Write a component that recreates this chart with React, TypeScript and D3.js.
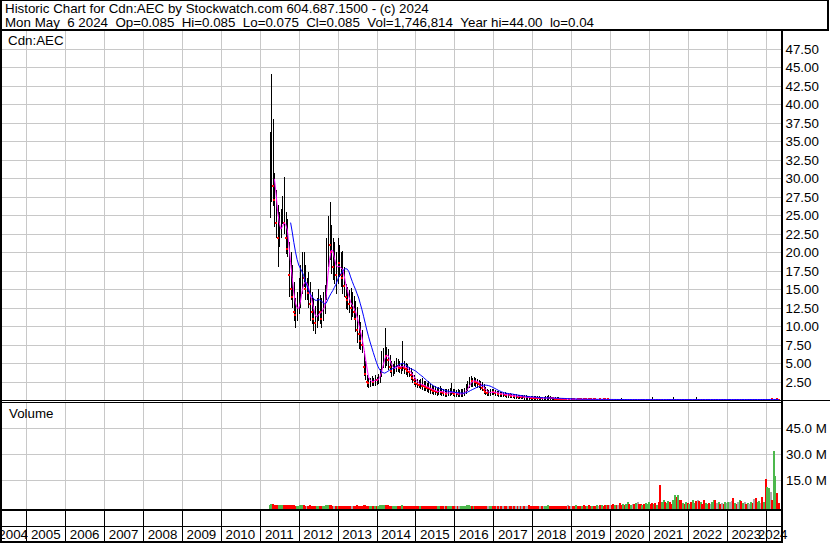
import React, { useEffect, useRef } from 'react';
import * as d3 from 'd3';

// half-monthly bars, first one at 2011.25 (early April 2011)
const startYear = 2011.25;
const stepYears = 1 / 24;

const highs = [
  // 2011
  36.2, 44.0, 38.0, 30.7, 28.3, 26.3, 25.4, 25.8, 27.6, 30.1, 25.4, 24.5, 21.3, 20.0, 18.2, 15.9, 13.7, 14.6,
  // 2012
  16.4, 18.2, 20.0, 20.0, 18.2, 16.4, 17.3, 15.9, 14.6, 13.7, 12.7, 13.7, 15.0, 14.1, 13.7, 14.6, 15.5, 21.8, 24.9, 26.7, 23.6, 21.8, 21.3, 20.0,
  // 2013
  21.8, 20.9, 20.0, 20.1, 18.0, 15.6, 15.2, 14.8, 15.1, 14.5, 14.0, 13.3, 12.5, 11.5, 10.5, 9.5, 6.6, 5.2, 3.4, 3.0, 3.0, 3.2, 3.0, 3.3,
  // 2014
  3.1, 3.5, 4.2, 6.6, 7.0, 9.7, 7.2, 6.8, 6.0, 5.2, 4.8, 5.2, 5.7, 5.5, 5.3, 5.0, 7.9, 5.2, 5.0, 4.8, 4.5, 4.3, 3.8, 3.4,
  // 2015
  3.0, 2.8, 2.7, 2.8, 2.9, 2.6, 2.5, 2.3, 2.5, 2.2, 2.0, 1.9, 1.8, 1.6, 1.7, 1.8, 1.6, 1.5, 1.5, 1.4, 1.5, 1.6, 2.3, 1.5,
  // 2016
  1.4, 1.3, 1.4, 1.3, 1.4, 1.5, 1.6, 2.1, 2.6, 3.1, 3.2, 3.0, 3.1, 2.9, 2.8, 2.7, 2.6, 2.4, 2.1, 1.7, 1.4, 1.3, 1.4, 1.5,
  // 2017
  1.4, 1.3, 1.2, 1.2, 1.1, 1.1, 1.0, 1.0, 0.95, 0.9, 0.9, 0.85, 0.8, 0.8, 0.75, 0.7, 0.7, 0.65, 0.65, 0.6, 0.6, 0.55, 0.55, 0.5,
  // 2018
  0.5, 0.48, 0.5, 0.45, 0.45, 0.42, 0.42, 0.4, 0.45, 0.55, 0.7, 0.5, 0.4, 0.38, 0.36, 0.34, 0.32, 0.3, 0.3, 0.28, 0.26, 0.25, 0.24, 0.22,
  // 2019
  0.18, 0.17, 0.17, 0.17, 0.16, 0.16, 0.15, 0.16, 0.15, 0.15, 0.15, 0.15, 0.14, 0.15, 0.14, 0.14, 0.14, 0.14, 0.14, 0.14, 0.14, 0.13, 0.14, 0.13,
  // 2020
  0.13, 0.13, 0.12, 0.13, 0.12, 0.12, 0.12, 0.3, 0.12, 0.11, 0.12, 0.12, 0.12, 0.12, 0.12, 0.12, 0.12, 0.12, 0.12, 0.11, 0.12, 0.11, 0.12, 0.12,
  // 2021
  0.13, 0.12, 0.35, 0.12, 0.12, 0.12, 0.12, 0.12, 0.12, 0.12, 0.12, 0.12, 0.13, 0.12, 0.12, 0.4, 0.13, 0.12, 0.13, 0.12, 0.12, 0.12, 0.12, 0.12,
  // 2022
  0.12, 0.12, 0.12, 0.12, 0.13, 0.35, 0.12, 0.12, 0.12, 0.12, 0.11, 0.12, 0.12, 0.12, 0.12, 0.12, 0.13, 0.12, 0.12, 0.13, 0.12, 0.12, 0.12, 0.12,
  // 2023
  0.12, 0.13, 0.13, 0.13, 0.12, 0.13, 0.12, 0.12, 0.13, 0.12, 0.13, 0.13, 0.12, 0.13, 0.13, 0.13, 0.13, 0.13, 0.13, 0.12, 0.13, 0.13, 0.13, 0.13,
  // 2024
  0.13, 0.13, 0.14, 0.14, 0.13, 0.14, 0.14, 0.14, 0.12,
];

const lows = [
  // 2011
  24.9, 27.0, 26.5, 23.6, 22.2, 18.2, 20.9, 22.2, 24.0, 22.7, 20.0, 19.5, 14.1, 13.7, 12.7, 10.9, 10.0, 10.9,
  // 2012
  11.8, 12.7, 14.6, 15.5, 13.7, 13.7, 12.7, 10.9, 10.5, 9.6, 9.1, 10.0, 10.9, 10.5, 10.0, 10.9, 11.8, 13.7, 18.2, 19.1, 17.3, 16.4, 15.9, 14.6,
  // 2013
  15.9, 16.8, 15.5, 14.5, 14.2, 12.5, 12.4, 12.0, 11.1, 11.5, 11.2, 9.5, 8.0, 7.2, 7.0, 6.6, 3.5, 2.9, 2.0, 1.8, 2.0, 2.2, 2.1, 2.2,
  // 2014
  2.3, 2.4, 2.6, 3.4, 4.5, 4.5, 4.8, 4.3, 3.9, 3.4, 3.5, 3.7, 4.0, 4.0, 3.9, 3.8, 4.2, 3.8, 3.6, 3.4, 3.4, 3.0, 2.6, 2.3,
  // 2015
  2.0, 1.9, 1.8, 1.7, 1.6, 1.5, 1.4, 1.3, 1.2, 1.1, 1.0, 0.9, 0.9, 0.8, 0.9, 0.9, 0.8, 0.8, 0.7, 0.7, 0.8, 0.8, 0.9, 0.8,
  // 2016
  0.7, 0.7, 0.6, 0.6, 0.7, 0.7, 0.8, 1.0, 1.4, 1.8, 2.0, 2.0, 2.1, 2.0, 1.9, 1.8, 1.6, 1.4, 1.1, 0.9, 0.8, 0.8, 0.8, 0.9,
  // 2017
  0.9, 0.8, 0.8, 0.7, 0.7, 0.7, 0.6, 0.6, 0.55, 0.5, 0.5, 0.45, 0.45, 0.4, 0.4, 0.4, 0.35, 0.35, 0.35, 0.3, 0.3, 0.3, 0.3, 0.28,
  // 2018
  0.28, 0.26, 0.25, 0.25, 0.24, 0.22, 0.22, 0.2, 0.2, 0.25, 0.26, 0.24, 0.2, 0.18, 0.18, 0.16, 0.15, 0.14, 0.14, 0.13, 0.12, 0.12, 0.11, 0.1,
  // 2019
  0.13, 0.12, 0.12, 0.12, 0.12, 0.11, 0.11, 0.11, 0.11, 0.1, 0.11, 0.1, 0.1, 0.1, 0.1, 0.1, 0.1, 0.1, 0.1, 0.1, 0.09, 0.09, 0.1, 0.09,
  // 2020
  0.09, 0.09, 0.08, 0.09, 0.08, 0.08, 0.08, 0.07, 0.08, 0.07, 0.08, 0.08, 0.08, 0.08, 0.08, 0.08, 0.08, 0.08, 0.08, 0.07, 0.08, 0.07, 0.08, 0.08,
  // 2021
  0.09, 0.08, 0.08, 0.08, 0.08, 0.08, 0.08, 0.07, 0.08, 0.08, 0.08, 0.08, 0.09, 0.08, 0.08, 0.08, 0.09, 0.08, 0.09, 0.08, 0.08, 0.08, 0.08, 0.08,
  // 2022
  0.08, 0.08, 0.08, 0.08, 0.09, 0.08, 0.08, 0.08, 0.08, 0.08, 0.07, 0.08, 0.08, 0.08, 0.08, 0.08, 0.09, 0.08, 0.08, 0.09, 0.08, 0.08, 0.08, 0.08,
  // 2023
  0.08, 0.09, 0.09, 0.09, 0.08, 0.09, 0.08, 0.08, 0.09, 0.08, 0.09, 0.09, 0.08, 0.09, 0.09, 0.09, 0.09, 0.09, 0.09, 0.08, 0.09, 0.09, 0.09, 0.09,
  // 2024
  0.09, 0.09, 0.1, 0.1, 0.09, 0.1, 0.1, 0.1, 0.075,
];

const closes = [
  // 2011
  31.7, 32.0, 29.0, 27.0, 24.0, 22.0, 23.0, 23.5, 25.5, 24.0, 22.0, 20.5, 17.0, 15.0, 14.0, 12.0, 11.5, 12.5,
  // 2012
  13.5, 15.5, 17.0, 16.5, 15.0, 15.0, 14.5, 13.0, 12.0, 11.0, 10.5, 11.5, 13.0, 12.0, 11.0, 13.0, 14.5, 18.0, 22.0, 21.0, 20.0, 18.0, 18.0, 17.0,
  // 2013
  19.0, 18.5, 17.0, 16.5, 15.5, 14.0, 13.5, 13.0, 12.5, 12.5, 12.0, 11.0, 9.5, 9.0, 8.0, 7.5, 4.5, 3.5, 2.5, 2.3, 2.6, 2.8, 2.5, 2.9,
  // 2014
  2.7, 3.0, 3.8, 5.5, 6.3, 6.5, 6.0, 5.5, 4.5, 4.0, 4.2, 4.5, 4.8, 4.6, 4.4, 4.3, 5.0, 4.4, 4.2, 4.0, 3.8, 3.4, 3.0, 2.7,
  // 2015
  2.4, 2.2, 2.1, 2.2, 2.0, 1.9, 1.8, 1.7, 1.6, 1.5, 1.4, 1.3, 1.2, 1.1, 1.2, 1.3, 1.1, 1.0, 1.0, 0.9, 1.0, 1.1, 1.2, 1.0,
  // 2016
  0.9, 0.9, 0.8, 0.8, 0.9, 1.0, 1.1, 1.6, 2.1, 2.5, 2.7, 2.6, 2.7, 2.5, 2.4, 2.2, 2.0, 1.7, 1.4, 1.1, 1.0, 1.0, 1.1, 1.2,
  // 2017
  1.1, 1.0, 1.0, 0.9, 0.9, 0.8, 0.8, 0.75, 0.7, 0.7, 0.65, 0.6, 0.6, 0.55, 0.55, 0.5, 0.5, 0.45, 0.45, 0.4, 0.4, 0.4, 0.38, 0.36,
  // 2018
  0.35, 0.34, 0.33, 0.32, 0.3, 0.3, 0.28, 0.28, 0.3, 0.32, 0.34, 0.3, 0.27, 0.25, 0.24, 0.22, 0.21, 0.2, 0.19, 0.18, 0.17, 0.16, 0.16, 0.15,
  // 2019
  0.15, 0.145, 0.14, 0.145, 0.14, 0.135, 0.13, 0.135, 0.13, 0.125, 0.13, 0.125, 0.12, 0.125, 0.12, 0.115, 0.12, 0.12, 0.115, 0.12, 0.115, 0.11, 0.115, 0.11,
  // 2020
  0.11, 0.105, 0.1, 0.105, 0.1, 0.1, 0.095, 0.09, 0.095, 0.09, 0.095, 0.1, 0.095, 0.1, 0.1, 0.095, 0.1, 0.1, 0.095, 0.09, 0.095, 0.09, 0.095, 0.1,
  // 2021
  0.105, 0.1, 0.095, 0.1, 0.095, 0.1, 0.095, 0.09, 0.095, 0.1, 0.095, 0.1, 0.105, 0.1, 0.095, 0.1, 0.105, 0.1, 0.105, 0.1, 0.095, 0.1, 0.095, 0.1,
  // 2022
  0.095, 0.1, 0.095, 0.1, 0.105, 0.1, 0.1, 0.095, 0.1, 0.095, 0.09, 0.095, 0.1, 0.095, 0.095, 0.1, 0.105, 0.1, 0.1, 0.105, 0.1, 0.1, 0.095, 0.1,
  // 2023
  0.1, 0.105, 0.105, 0.105, 0.1, 0.105, 0.1, 0.1, 0.105, 0.1, 0.105, 0.105, 0.1, 0.105, 0.105, 0.11, 0.105, 0.105, 0.1, 0.105, 0.11, 0.11, 0.105, 0.11,
  // 2024
  0.105, 0.11, 0.115, 0.115, 0.11, 0.115, 0.12, 0.115, 0.085,
];

// volume in millions of shares
const volumes = [
  // 2011
  0.9, 1.4, 1.1, 0.8, 0.7, 0.6, 0.6, 0.5, 0.7, 0.8, 0.6, 0.5, 0.6, 0.5, 0.5, 0.5, 0.4, 0.4,
  // 2012
  0.4, 0.5, 0.6, 0.5, 0.4, 0.4, 0.4, 0.5, 0.4, 0.4, 0.3, 0.4, 0.4, 0.3, 0.3, 0.4, 0.4, 0.6, 0.7, 0.6, 0.5, 0.4, 0.4, 0.4,
  // 2013
  0.4, 0.4, 0.3, 0.4, 0.3, 0.3, 0.3, 0.3, 0.4, 0.3, 0.3, 0.4, 0.5, 0.4, 0.4, 0.4, 0.6, 0.5, 0.4, 0.4, 0.3, 0.3, 0.3, 0.3,
  // 2014
  0.3, 0.4, 0.5, 0.8, 0.7, 0.9, 0.6, 0.5, 0.4, 0.3, 0.3, 0.4, 0.3, 0.3, 0.3, 0.3, 0.5, 0.3, 0.3, 0.3, 0.3, 0.3, 0.3, 0.3,
  // 2015
  0.3, 0.3, 0.2, 0.3, 0.3, 0.2, 0.3, 0.3, 0.2, 0.3, 0.2, 0.3, 0.3, 0.2, 0.3, 0.4, 0.2, 0.3, 0.2, 0.3, 0.3, 0.2, 0.4, 0.3,
  // 2016
  0.2, 0.3, 0.2, 0.3, 0.2, 0.3, 0.3, 0.4, 0.5, 0.5, 0.4, 0.3, 0.3, 0.3, 0.3, 0.2, 0.3, 0.3, 0.3, 0.2, 0.3, 0.2, 0.3, 0.3,
  // 2017
  0.2, 0.3, 0.2, 0.3, 0.3, 0.2, 0.3, 0.2, 0.3, 0.3, 0.2, 0.3, 0.2, 0.3, 0.3, 0.2, 0.3, 0.3, 0.2, 0.3, 0.3, 0.4, 1.0, 0.4,
  // 2018
  0.3, 0.2, 0.3, 0.3, 0.2, 0.3, 0.3, 0.2, 0.3, 0.4, 0.5, 0.3, 0.3, 0.2, 0.3, 0.3, 0.2, 0.3, 0.3, 0.3, 0.2, 0.3, 0.7, 0.3,
  // 2019
  0.3, 0.4, 0.3, 0.5, 0.3, 0.4, 0.3, 0.3, 0.6, 0.4, 0.3, 0.5, 0.4, 0.3, 0.4, 0.3, 0.5, 0.4, 0.6, 0.5, 0.4, 0.7, 0.5, 0.6,
  // 2020
  1.0, 0.8, 1.2, 0.6, 0.9, 0.7, 1.8, 0.8, 1.2, 1.0, 1.6, 2.2, 1.5, 1.0, 1.3, 1.4, 1.8, 2.2, 1.2, 1.6, 1.0, 1.4, 2.0, 1.2,
  // 2021
  2.6, 1.6, 2.0, 1.2, 1.8, 1.0, 2.2, 12.3, 2.5, 3.4, 2.6, 1.8, 3.0, 2.4, 1.6, 3.8, 6.8, 5.6, 6.5, 3.8, 3.6, 2.0, 1.4, 2.6,
  // 2022
  1.8, 1.4, 2.4, 3.6, 2.0, 2.8, 3.9, 3.2, 2.2, 1.6, 3.8, 2.0, 1.4, 1.8, 1.2, 2.4, 3.6, 3.8, 2.0, 2.6, 1.4, 2.0, 1.6, 2.2,
  // 2023
  1.8, 2.6, 2.7, 3.3, 4.6, 2.0, 1.6, 2.4, 3.6, 3.2, 2.0, 2.6, 1.6, 2.0, 1.4, 2.6, 2.0, 4.4, 4.6, 2.2, 3.0, 2.0, 5.4, 2.6,
  // 2024
  15.7, 11.3, 10.7, 8.5, 3.6, 31.9, 17.3, 7.5, 2.0,
];

const yearLabels = ['2004', '2005', '2006', '2007', '2008', '2009', '2010', '2011', '2012', '2013', '2014',
  '2015', '2016', '2017', '2018', '2019', '2020', '2021', '2022', '2023', '2024'];
const priceTicks = [2.5, 5, 7.5, 10, 12.5, 15, 17.5, 20, 22.5, 25, 27.5, 30, 32.5, 35, 37.5, 40, 42.5, 45, 47.5];
const volumeTicks = [15, 30, 45];

const titleLine = 'Historic Chart for Cdn:AEC by Stockwatch.com 604.687.1500 - (c) 2024';
const quoteLine = 'Mon May  6 2024  Op=0.085  Hi=0.085  Lo=0.075  Cl=0.085  Vol=1,746,814  Year hi=44.00  lo=0.04';
const symbol = 'Cdn:AEC';

const sma = (vals: number[], n: number) => {
  const out: { i: number; v: number }[] = [];
  for (let i = n - 1; i < vals.length; i++) {
    out.push({ i, v: d3.mean(vals.slice(i - n + 1, i + 1)) as number });
  }
  return out;
};

// keep runs of spaces visible in svg text
const keepSpaces = (s: string) => s.replace(/ /g, '\u00a0');

const App: React.FC = () => {
  const svgRef = useRef<SVGSVGElement>(null);
  const width = 830;
  const height = 543;

  useEffect(() => {
    if (!svgRef.current) return;
    const svg = d3.select(svgRef.current);
    svg.selectAll('*').remove();

    const font = 'Liberation Sans, Arial, sans-serif';
    const fs = 13.33;
    const plotL = 1;
    const plotR = 781;
    const priceTop = 31;
    const priceBottom = 400;
    const volTop = 402;
    const volBottom = 509;
    const rowMid = 526;
    const rowBottom = 542;

    const x = d3.scaleLinear().domain([2005, 2024]).range([26.3, 765.7]);
    const y = d3.scaleLinear().domain([0, 50]).range([400.3, 30.3]);
    const yv = d3.scaleLinear().domain([0, 60]).range([506.3, 402.3]);

    const t = (i: number) => startYear + i * stepYears;
    const px = (i: number) => Math.round(x(t(i)));
    const xEnd = x(t(closes.length - 1)) + 1;

    svg.append('rect').attr('width', width).attr('height', height).attr('fill', '#fff');

    const defs = svg.append('defs');
    defs.append('clipPath').attr('id', 'price-clip').append('rect')
      .attr('x', plotL).attr('y', priceTop).attr('width', plotR - plotL).attr('height', priceBottom - priceTop);

    // grid
    const grid = svg.append('g').attr('stroke', '#c8c8c8').attr('stroke-width', 1).attr('shape-rendering', 'crispEdges');
    const yearBounds = d3.range(2005, 2025);
    [[priceTop, priceBottom], [volTop, volBottom]].forEach(([a, b]) => {
      grid.selectAll(null).data(yearBounds).join('line')
        .attr('x1', d => Math.round(x(d)) + 0.5).attr('x2', d => Math.round(x(d)) + 0.5)
        .attr('y1', a).attr('y2', b);
    });
    grid.selectAll(null).data(priceTicks).join('line')
      .attr('x1', plotL).attr('x2', plotR)
      .attr('y1', d => Math.round(y(d)) + 0.5).attr('y2', d => Math.round(y(d)) + 0.5);
    grid.selectAll(null).data(volumeTicks).join('line')
      .attr('x1', plotL).attr('x2', plotR)
      .attr('y1', d => Math.round(yv(d)) + 0.5).attr('y2', d => Math.round(yv(d)) + 0.5);

    // price bars (high-low), red tick on down closes
    const price = svg.append('g').attr('clip-path', 'url(#price-clip)');
    const idx = d3.range(closes.length);
    price.append('g').attr('fill', '#000').attr('shape-rendering', 'crispEdges')
      .selectAll('rect').data(idx).join('rect')
      .attr('x', px).attr('width', 1)
      .attr('y', i => Math.floor(y(highs[i])))
      .attr('height', i => Math.ceil(y(lows[i])) + 1 - Math.floor(y(highs[i])));

    const downs = idx.filter(i => i > 0 && closes[i] < closes[i - 1]);
    price.append('g').attr('fill', '#ff0000').attr('shape-rendering', 'crispEdges')
      .selectAll('rect').data(downs).join('rect')
      .attr('x', i => px(i) - 1).attr('y', i => Math.round(y(closes[i])) - 1)
      .attr('width', 2).attr('height', 2);

    const line = d3.line<{ i: number; v: number }>()
      .x(d => x(t(d.i)))
      .y(d => y(d.v));
    price.append('path').datum(sma(closes, 4))
      .attr('fill', 'none').attr('stroke', '#ff00ff').attr('stroke-width', 1).attr('d', line);
    price.append('path').datum(sma(closes, 14))
      .attr('fill', 'none').attr('stroke', '#0000ff').attr('stroke-width', 1).attr('d', line);

    // volume bars
    const volColor = (i: number) => {
      if (i === 0 || closes[i] > closes[i - 1]) return '#4cb84c';
      if (closes[i] < closes[i - 1]) return '#ff0000';
      return '#a9a9a9';
    };
    svg.append('g').attr('shape-rendering', 'crispEdges')
      .selectAll('rect').data(idx).join('rect')
      .attr('x', i => px(i) - 1)
      .attr('width', 2)
      .attr('y', i => Math.min(Math.round(yv(volumes[i])), volBottom - 1))
      .attr('height', i => volBottom - Math.min(Math.round(yv(volumes[i])), volBottom - 1))
      .attr('fill', volColor);

    // frame lines
    const frame = svg.append('g').attr('fill', '#000').attr('shape-rendering', 'crispEdges');
    const bar = (x0: number, y0: number, w: number, h: number) =>
      frame.append('rect').attr('x', x0).attr('y', y0).attr('width', w).attr('height', h);
    bar(0, 0, 829, 1);
    bar(0, 0, 2, rowBottom + 1);
    bar(827, 0, 2, 31);
    bar(0, 29, 829, 2);
    bar(plotR, 29, 2, rowBottom - 28);
    bar(0, 400, width, 1);
    bar(0, 402, plotR, 1);
    bar(0, volBottom, plotR, 2);
    bar(0, rowMid, plotR, 1);
    bar(0, rowBottom - 1, plotR, 2);
    frame.selectAll(null).data(yearBounds.filter(d => x(d) < plotR)).join('rect')
      .attr('x', d => Math.round(x(d))).attr('y', volBottom).attr('width', 1).attr('height', rowBottom - volBottom);

    // year labels centred in their slot
    svg.append('g').attr('font-family', font).attr('font-size', fs).attr('fill', '#000').attr('text-anchor', 'middle')
      .selectAll('text').data(yearLabels).join('text')
      .attr('x', d => {
        const yr = +d;
        const a = Math.max(x(yr), 0);
        const b = Math.min(x(yr + 1), xEnd);
        return (a + b) / 2;
      })
      .attr('y', 539)
      .text(d => d);

    // right axis labels
    const axisText = svg.append('g').attr('font-family', font).attr('font-size', fs).attr('fill', '#000');
    axisText.selectAll(null).data(priceTicks).join('text')
      .attr('x', 785.5).attr('y', d => Math.round(y(d)) + 5)
      .text(d => d3.format('.2f')(d));
    axisText.selectAll(null).data(volumeTicks).join('text')
      .attr('x', 786).attr('y', d => Math.round(yv(d)) + 5)
      .text(d => `${d3.format('.1f')(d)} M`);

    // header and pane titles
    const txt = svg.append('g').attr('font-family', font).attr('font-size', fs).attr('fill', '#000');
    txt.append('text').attr('x', 5).attr('y', 13).text(keepSpaces(titleLine));
    txt.append('text').attr('x', 5).attr('y', 27).text(keepSpaces(quoteLine));
    txt.append('text').attr('x', 8).attr('y', 45).text(symbol);
    txt.append('text').attr('x', 9).attr('y', 418).text('Volume');
  }, []);

  return (
    <svg
      ref={svgRef}
      width={width}
      height={height}
      style={{ position: 'absolute', left: 0, top: 0, display: 'block' }}
    />
  );
};

export default App;
